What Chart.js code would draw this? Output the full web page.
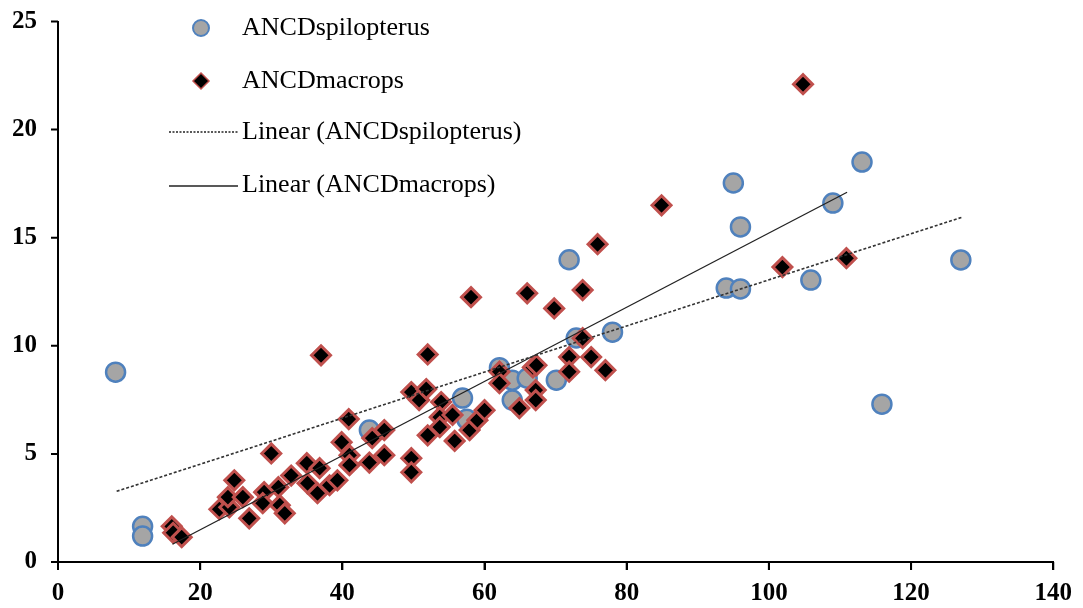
<!DOCTYPE html>
<html>
<head>
<meta charset="utf-8">
<script src="https://cdn.jsdelivr.net/npm/chart.js@4.4.0/dist/chart.umd.min.js"></script>
<style>
    html, body { margin: 0; padding: 0; background: #fff; }
    #wrap { width: 1083px; height: 608px; }
</style>
</head>
<body>
<div id="wrap"><canvas id="scatter" width="1083" height="608"></canvas></div>
<script>
var seriesNames = ["ANCDspilopterus", "ANCDmacrops"];
var trendNames = ["Linear (ANCDspilopterus)", "Linear (ANCDmacrops)"];

var spiloX = [8.1, 11.9, 11.9, 43.8, 56.9, 57.5, 62.1, 63.9, 63.9, 66.0, 70.1, 71.9, 72.9, 78.0, 94.0, 95.0, 96.0, 96.0, 105.9, 109.0, 113.1, 115.9, 127.0];
var spiloY = [8.78, 1.65, 1.2, 6.1, 7.58, 6.6, 8.99, 8.41, 7.49, 8.5, 8.41, 13.98, 10.36, 10.63, 12.67, 17.53, 15.5, 12.63, 13.04, 16.6, 18.5, 7.3, 13.97];

var macroX = [16.0, 16.2, 17.4, 22.7, 24.1, 23.9, 24.8, 26.0, 26.9, 29.0, 28.8, 30.0, 31.0, 31.2, 31.9, 32.8, 35.0, 36.8, 35.1, 36.5, 38.2, 39.3,
    39.9, 40.9, 41.0, 41.0, 44.2, 45.9, 45.9, 43.8, 49.7, 49.7, 49.7, 50.8, 52.0, 51.8, 53.9, 53.7, 55.5, 53.7, 52.0, 55.8, 57.9, 59.0, 60.0,
    62.1, 62.1, 64.9, 66.8, 67.2, 67.2, 37.0, 58.1, 66.0, 69.8, 73.8, 75.9, 73.8, 71.9, 75.0, 71.9, 77.0, 67.3, 84.9, 104.8, 101.9, 110.9];
var macroY = [1.65, 1.35, 1.15, 2.44, 2.53, 3.0, 3.78, 3.0, 2.02, 3.23, 2.72, 5.02, 3.46, 2.63, 2.25, 4.0, 4.57, 4.34, 3.64, 3.18, 3.55, 3.78,
    5.54, 6.61, 4.94, 4.48, 5.73, 6.1, 4.94, 4.6, 4.8, 4.15, 7.86, 7.49, 9.6, 8.0, 7.4, 6.7, 6.8, 6.24, 5.86, 5.6, 6.1, 6.56, 7.02,
    8.8, 8.27, 7.12, 9.0, 7.95, 7.49, 9.56, 12.25, 12.43, 11.73, 12.58, 14.7, 10.35, 9.48, 9.48, 8.8, 8.87, 9.1, 16.5, 22.1, 13.64, 14.05];

// trend line ends
var spiloTrendX = [8.25, 127.2];
var spiloTrendY = [3.27, 15.95];
var macroTrendX = [16.1, 111.0];
var macroTrendY = [0.82, 17.1];

var xTicks = [0, 20, 40, 60, 80, 100, 120, 140];
var yTicks = [0, 5, 10, 15, 20, 25];

function toPoints(xs, ys) {
    var pts = [];
    for (var i = 0; i < xs.length; i++) {
        pts.push({ x: xs[i], y: ys[i] });
    }
    return pts;
}

var serif = '"Liberation Serif", "Times New Roman", serif';

// small outside tick marks on both axes
var tickPlugin = {
    id: 'outerTicks',
    afterDraw: function(chart) {
        var ctx = chart.ctx;
        var xs = chart.scales.x, ys = chart.scales.y;
        var area = chart.chartArea;
        ctx.save();
        ctx.strokeStyle = '#000';
        ctx.lineWidth = 2;
        ctx.beginPath();
        xTicks.forEach(function(v) {
            var px = xs.getPixelForValue(v);
            ctx.moveTo(px, area.bottom);
            ctx.lineTo(px, area.bottom + 8);
        });
        yTicks.forEach(function(v) {
            var py = ys.getPixelForValue(v);
            ctx.moveTo(area.left, py);
            ctx.lineTo(area.left - 7, py);
        });
        ctx.stroke();
        ctx.restore();
    }
};

var legendPlugin = {
    id: 'insideLegend',
    afterDraw: function(chart) {
        var ctx = chart.ctx;
        ctx.save();

        // circle
        ctx.beginPath();
        ctx.arc(201, 28, 8, 0, Math.PI * 2);
        ctx.fillStyle = '#A5A5A5';
        ctx.fill();
        ctx.lineWidth = 2;
        ctx.strokeStyle = '#4F81BD';
        ctx.stroke();

        // diamond
        ctx.beginPath();
        ctx.moveTo(201, 73);
        ctx.lineTo(209, 81);
        ctx.lineTo(201, 89);
        ctx.lineTo(193, 81);
        ctx.closePath();
        ctx.fillStyle = '#000';
        ctx.fill();
        ctx.lineWidth = 1.5;
        ctx.strokeStyle = '#C0504D';
        ctx.stroke();

        ctx.strokeStyle = '#222';
        ctx.lineWidth = 1.3;
        ctx.setLineDash([2, 1.5]);
        ctx.beginPath();
        ctx.moveTo(169, 132);
        ctx.lineTo(238, 132);
        ctx.stroke();
        ctx.setLineDash([]);
        ctx.beginPath();
        ctx.moveTo(169, 186);
        ctx.lineTo(238, 186);
        ctx.stroke();

        ctx.font = '26px ' + serif;
        ctx.fillStyle = '#000';
        ctx.textBaseline = 'middle';
        ctx.textAlign = 'left';
        ctx.fillText(seriesNames[0], 242, 28);
        ctx.fillText(seriesNames[1], 242, 81);
        ctx.fillText(trendNames[0], 242, 132);
        ctx.fillText(trendNames[1], 242, 185);
        ctx.restore();
    }
};

new Chart(document.getElementById("scatter"), {
    type: 'scatter',
    data: {
        datasets: [{
            label: trendNames[0],
            data: toPoints(spiloTrendX, spiloTrendY),
            showLine: true,
            borderColor: '#333',
            borderWidth: 1.6,
            borderDash: [3, 2],
            pointRadius: 0,
            order: 0
        }, {
            label: trendNames[1],
            data: toPoints(macroTrendX, macroTrendY),
            showLine: true,
            borderColor: '#222',
            borderWidth: 1.3,
            pointRadius: 0,
            order: 0
        }, {
            label: seriesNames[1],
            data: toPoints(macroX, macroY),
            pointStyle: 'rectRot',
            pointRadius: 9.5,
            backgroundColor: '#000',
            borderColor: '#C0504D',
            borderWidth: 3,
            order: 1
        }, {
            label: seriesNames[0],
            data: toPoints(spiloX, spiloY),
            pointStyle: 'circle',
            pointRadius: 9.5,
            backgroundColor: '#A5A5A5',
            borderColor: '#4F81BD',
            borderWidth: 2.5,
            order: 2
        }]
    },
    options: {
        responsive: false,
        animation: false,
        devicePixelRatio: 1,
        layout: { padding: { top: 18, right: 29, bottom: 0, left: 0 } },
        plugins: {
            legend: { display: false },
            tooltip: { enabled: false }
        },
        scales: {
            x: {
                type: 'linear',
                min: xTicks[0],
                max: xTicks[xTicks.length - 1],
                afterBuildTicks: function(scale) {
                    scale.ticks = xTicks.map(function(v) { return { value: v }; });
                },
                afterFit: function(scale) { scale.height = 46; },
                grid: { drawOnChartArea: false, color: '#000', lineWidth: 2, tickLength: 8 },
                border: { color: '#000', width: 2 },
                ticks: {
                    color: '#000',
                    padding: 11,
                    font: { family: serif, size: 25, weight: 'bold', lineHeight: 1 }
                }
            },
            y: {
                type: 'linear',
                min: yTicks[0],
                max: yTicks[yTicks.length - 1],
                afterBuildTicks: function(scale) {
                    scale.ticks = yTicks.map(function(v) { return { value: v }; });
                },
                afterFit: function(scale) { scale.width = 58; },
                grid: { drawOnChartArea: false, lineWidth: 2, tickLength: 12, tickColor: 'rgba(0,0,0,0)' },
                border: { color: '#000', width: 2 },
                ticks: {
                    color: '#000',
                    padding: 9,
                    font: { family: serif, size: 25, weight: 'bold', lineHeight: 1 }
                }
            }
        }
    },
    plugins: [tickPlugin, legendPlugin]
});
</script>
</body>
</html>
